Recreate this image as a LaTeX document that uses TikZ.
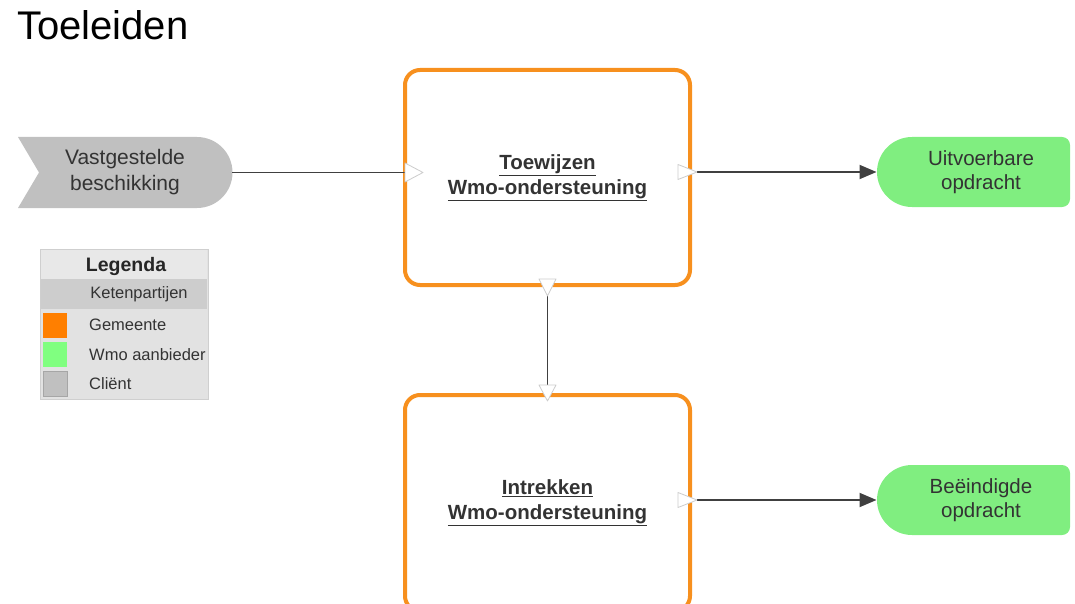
\documentclass[tikz,border=0pt]{standalone}
\usepackage{fontspec}
\setmainfont{Liberation Sans}
\usetikzlibrary{calc,arrows.meta}
\definecolor{boxorange}{HTML}{F7901E}
\definecolor{swatchorange}{HTML}{FF7F00}
\definecolor{nodegreen}{HTML}{80EE80}
\definecolor{swatchgreen}{HTML}{80FF80}
\definecolor{clientgray}{HTML}{C0C0C0}
\definecolor{textdark}{HTML}{333333}
\definecolor{legbg}{HTML}{E2E2E2}
\definecolor{leghead}{HTML}{E8E8E8}
\definecolor{legband}{HTML}{CDCDCD}
\definecolor{legborder}{HTML}{CFCFCF}
\definecolor{portgray}{HTML}{CCCCCC}
\begin{document}
\begin{tikzpicture}[x=1pt,y=-1pt,
  procbox/.style={draw=boxorange, line width=4pt, rounded corners=15pt, fill=white,
    minimum width=285pt, outer sep=0pt, inner sep=0pt, align=center,
    font=\fontsize{20.5}{25}\selectfont\bfseries, text=textdark},
  shapetext/.style={minimum width=#1, minimum height=71pt, inner sep=0pt, outer sep=0pt,
    align=center, text=textdark},
  conn/.style={draw=black!75, line width=1.9pt},
  endtip/.style={-{Triangle[length=17pt,width=14pt]}},
  port/.style={fill=white, draw=portgray, line width=0.8pt, line join=round},
  legtext/.style={anchor=west, font=\fontsize{16.5}{18}\selectfont, text=textdark, inner sep=0pt},
  swatch/.style={minimum width=24pt, minimum height=25pt, inner sep=0pt, outer sep=0pt}
]
\useasboundingbox (0,0) rectangle (1075,604);

% title
\node[anchor=base west, inner sep=0pt, font=\fontsize{40}{42}\selectfont] (title) at (17,40) {Toeleiden};

% client shape
\fill[clientgray] (18,137) -- (197,137) arc[start angle=-90,end angle=90,radius=35.5] -- (18,208) -- (39,172.5) -- cycle;
\node[shapetext=214pt, font=\fontsize{21}{26}\selectfont] (client) at (125,172.5) {Vastgestelde\\beschikking};

% process boxes
\node[procbox, minimum height=215pt] (toew) at (547.5,177.5) {\underline{Toewijzen}\\\underline{Wmo-ondersteuning}};
\node[procbox, minimum height=216pt] (intr) at (547.5,503) {\underline{Intrekken}\\\underline{Wmo-ondersteuning}};

% green end shapes
\fill[nodegreen] (912,207) arc[start angle=90,end angle=270,radius=35] -- (1062,137) arc[start angle=-90,end angle=0,radius=8] -- (1070,199) arc[start angle=0,end angle=90,radius=8] -- cycle;
\node[shapetext=193pt, minimum height=70pt, font=\fontsize{20.5}{24}\selectfont] (uitv) at (981,172) {Uitvoerbare\\opdracht};
\fill[nodegreen] (912,535) arc[start angle=90,end angle=270,radius=35] -- (1062,465) arc[start angle=-90,end angle=0,radius=8] -- (1070,527) arc[start angle=0,end angle=90,radius=8] -- cycle;
\node[shapetext=193pt, minimum height=70pt, font=\fontsize{20.5}{24}\selectfont] (beei) at (981,500) {Beëindigde\\opdracht};

% connectors
\draw[conn] (client.east) -- (toew.west |- client.east);
\draw[conn, endtip] ([xshift=7pt]toew.east |- uitv.west) -- ([xshift=-8pt]uitv.west);
\draw[conn] (toew.south) -- (intr.north);
\draw[conn, endtip] ([xshift=7pt]intr.east |- beei.west) -- ([xshift=-8pt]beei.west);

% port triangles
\draw[port] ($(toew.west |- client.east)+(0,-9.5)$) -- ++(18,9.5) -- ++(-18,9.5) -- cycle;
\draw[port] ($(toew.east |- uitv.west)+(-12,-7.5)$) -- ++(0,15) -- ++(19,-7.5) -- cycle;
\draw[port] ($(toew.south)+(-8.5,-6)$) -- ++(17,0) -- ++(-8.5,17) -- cycle;
\draw[port] ($(intr.north)+(-8.5,-10)$) -- ++(17,0) -- ++(-8.5,16) -- cycle;
\draw[port] ($(intr.east |- beei.west)+(-12,-7.5)$) -- ++(0,15) -- ++(19,-7.5) -- cycle;

% legend
\node[fill=legbg, draw=legborder, line width=1pt, minimum width=168pt, minimum height=150pt, inner sep=0pt, outer sep=0pt] (legend) at (124,324) {};
\fill[leghead] (41,250) rectangle (207,279);
\fill[legband] (41,279) rectangle (207,309);
\node[inner sep=0pt, font=\fontsize{19.5}{20}\selectfont\bfseries, text=black!85] (leghd) at (126,266) {Legenda};
\node[inner sep=0pt, font=\fontsize{16.5}{18}\selectfont, text=textdark] (legsub) at (139,294) {Ketenpartijen};
\node[swatch, fill=swatchorange] (sw1) at (55,325) {};
\node[swatch, fill=swatchgreen] (sw2) at (55,354.5) {};
\node[swatch, fill=clientgray, draw=legborder!80!black, line width=0.6pt] (sw3) at (55,384) {};
\node[legtext] (lg1) at (89,325) {Gemeente};
\node[legtext] (lg2) at (89,354.5) {Wmo aanbieder};
\node[legtext] (lg3) at (89,384) {Cliënt};
\end{tikzpicture}
\end{document}
